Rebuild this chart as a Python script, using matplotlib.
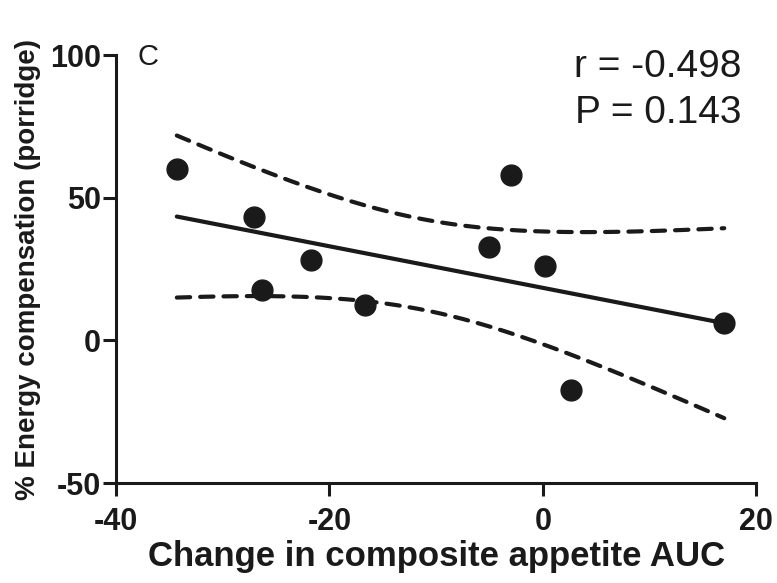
import numpy as np
import matplotlib
matplotlib.use("Agg")
import matplotlib.pyplot as plt

# Data
appetite_auc_change = [-34.3, -27.1, -26.3, -21.7, -16.7, -5.0, -3.0, 0.2, 2.6, 17.0]
energy_compensation = [59.9, 43.4, 17.8, 28.0, 12.5, 32.7, 58.1, 26.2, -17.4, 6.2]
x_ticks = [-40, -20, 0, 20]
y_ticks = [-50, 0, 50, 100]
stats_lines = ["r = -0.498", "P = 0.143"]
panel_label = "C"
T_CRIT = 2.306  # t(0.975, df=8)

plt.rcParams['font.family'] = ['Liberation Sans', 'DejaVu Sans']
plt.rcParams['axes.unicode_minus'] = False

x = np.array(appetite_auc_change)
y = np.array(energy_compensation)
n = len(x)
slope, intercept = np.polyfit(x, y, 1)
xs = np.linspace(x.min(), x.max(), 200)
yfit = slope * xs + intercept
resid = y - (slope * x + intercept)
s = np.sqrt(np.sum(resid ** 2) / (n - 2))
sxx = np.sum((x - x.mean()) ** 2)
half = T_CRIT * s * np.sqrt(1.0 / n + (xs - x.mean()) ** 2 / sxx)

fig = plt.figure(figsize=(7.77, 5.83), dpi=100)
ax = fig.add_axes([0.1493, 0.1715, 0.824, 0.734])

col = '#1a1a1a'
ax.plot(xs, yfit, color=col, lw=3, solid_capstyle='round', zorder=2)
ax.plot(xs, yfit + half, color=col, lw=3, linestyle=(0, (3.2, 2.4)),
        dash_capstyle='round', zorder=2)
ax.plot(xs, yfit - half, color=col, lw=3, linestyle=(0, (3.2, 2.4)),
        dash_capstyle='round', zorder=2)
ax.plot(x, y, 'o', color=col, markersize=15, zorder=3)

ax.set_xlim(-40, 20)
ax.set_ylim(-50, 100)
ax.set_xticks(x_ticks)
ax.set_yticks(y_ticks)
for sp in ['top', 'right']:
    ax.spines[sp].set_visible(False)
for sp in ['left', 'bottom']:
    ax.spines[sp].set_linewidth(2.2)
    ax.spines[sp].set_color(col)
ax.tick_params(axis='both', direction='out', length=9.5, width=2.2, color=col,
               labelsize=22)
ax.tick_params(axis='x', pad=8)
ax.tick_params(axis='y', pad=1.5)
for lab in ax.get_xticklabels() + ax.get_yticklabels():
    lab.set_fontweight('bold')
    lab.set_color(col)

ax.set_xlabel("Change in composite appetite AUC", fontsize=25, fontweight='bold',
              color=col, labelpad=2)
ax.set_ylabel("% Energy compensation (porridge)", fontsize=20, fontweight='bold',
              color=col, labelpad=6)

ax.text(-38.0, 99.3, panel_label, fontsize=21, color=col, ha='left', va='center')
ax.text(18.6, 92.4, stats_lines[0], fontsize=28, color=col, ha='right', va='baseline')
ax.text(18.6, 76.2, stats_lines[1], fontsize=28, color=col, ha='right', va='baseline')

fig.savefig("out.png", dpi=100)
